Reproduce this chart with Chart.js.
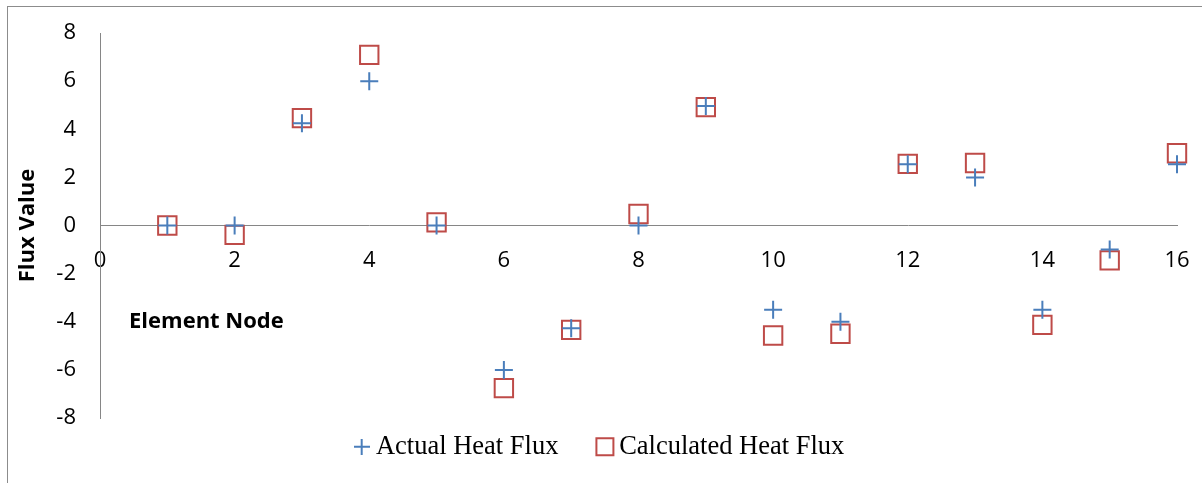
<!DOCTYPE html>
<html>
<head>
<meta charset="utf-8">
<title>Flux Value by Element Node</title>
<script src="https://cdn.jsdelivr.net/npm/chart.js@4.4.1/dist/chart.umd.min.js"></script>
<style>
  html, body { margin: 0; padding: 0; background: #fff; }
  #wrap { position: relative; width: 1202px; height: 483px; overflow: hidden; }
  #frame { position: absolute; left: 7px; top: 6px; right: -2px; bottom: -2px; border-left: 1px solid #8c8c8c; border-top: 1px solid #8c8c8c; }
  canvas { position: absolute; left: 0; top: 0; }
</style>
</head>
<body>
<div id="wrap">
  <div id="frame"></div>
  <canvas id="fluxChart" width="1202" height="483"></canvas>
</div>
<script>
// Data
const nodes = [1, 2, 3, 4, 5, 6, 7, 8, 9, 10, 11, 12, 13, 14, 15, 16];
const actualFlux = [0, 0, 4.25, 6, 0, -6, -4.27, 0, 4.97, -3.5, -4, 2.55, 2, -3.5, -1, 2.55];
const calculatedFlux = [0, -0.39, 4.46, 7.09, 0.13, -6.76, -4.34, 0.48, 4.92, -4.57, -4.5, 2.56, 2.6, -4.13, -1.45, 3];
const xTicks = [0, 2, 4, 6, 8, 10, 12, 14, 16];
const yTicks = [-8, -6, -4, -2, 0, 2, 4, 6, 8];

const blue = '#4A7EBB';
const red = '#BE4B48';
const axisGrey = '#868686';

// small cross for the legend, the built-in one is too tall at this font size
function crossIcon(size, color) {
    const c = document.createElement('canvas');
    c.width = size;
    c.height = size;
    const g = c.getContext('2d');
    g.strokeStyle = color;
    g.lineWidth = 2;
    g.beginPath();
    g.moveTo(0, size / 2); g.lineTo(size, size / 2);
    g.moveTo(size / 2, 0); g.lineTo(size / 2, size);
    g.stroke();
    return c;
}

// x axis caption sits inside the plot, under the axis, like in the original
const axisCaption = {
    id: 'axisCaption',
    afterDraw(chart) {
        const {ctx, scales: {x, y}} = chart;
        ctx.save();
        ctx.font = 'bold 22px "Open Sans"';
        ctx.fillStyle = '#000';
        ctx.textBaseline = 'alphabetic';
        ctx.textAlign = 'left';
        ctx.fillText('Element Node', x.left + 29, y.getPixelForValue(0) + 102);
        ctx.restore();
    }
};

// pull the legend up a bit, its padding is only there for the gap between items
// (only the top moves, the legend clips to its own box)
const legendLift = {
    id: 'legendLift',
    afterLayout(chart) {
        chart.legend.top -= 30;
        chart.legend.height += 30;
    }
};

const ctx = document.getElementById('fluxChart').getContext('2d');
new Chart(ctx, {
    type: 'scatter',
    data: {
        datasets: [{
            label: 'Actual Heat Flux',
            data: nodes.map((n, i) => ({x: n, y: actualFlux[i]})),
            pointStyle: 'cross',
            pointRadius: 9,
            pointHoverRadius: 9,
            borderWidth: 2,
            borderColor: blue,
            backgroundColor: blue,
            clip: false
        }, {
            label: 'Calculated Heat Flux',
            data: nodes.map((n, i) => ({x: n, y: calculatedFlux[i]})),
            pointStyle: 'rect',
            pointRadius: 13,
            pointHoverRadius: 13,
            borderWidth: 2,
            borderColor: red,
            backgroundColor: 'rgba(0,0,0,0)',
            clip: false
        }]
    },
    options: {
        responsive: false,
        animation: false,
        devicePixelRatio: 1,
        layout: {
            padding: {left: 28, right: 25, top: 33, bottom: 0}
        },
        scales: {
            x: {
                type: 'linear',
                position: {y: 0},
                min: xTicks[0],
                max: xTicks[xTicks.length - 1],
                grid: {display: false, drawTicks: false},
                border: {display: true, color: axisGrey, width: 1},
                ticks: {
                    stepSize: xTicks[1] - xTicks[0],
                    padding: 22,
                    color: '#000',
                    font: {family: '"Open Sans"', size: 22}
                },
                afterFit(scale) {
                    scale.paddingLeft = 0;
                    scale.paddingRight = 0;
                }
            },
            y: {
                type: 'linear',
                position: 'left',
                min: yTicks[0],
                max: yTicks[yTicks.length - 1],
                grid: {display: false, drawTicks: false},
                border: {display: true, color: axisGrey, width: 1},
                ticks: {
                    stepSize: yTicks[1] - yTicks[0],
                    padding: 24,
                    color: '#000',
                    font: {family: '"Open Sans"', size: 22}
                },
                title: {
                    display: true,
                    text: 'Flux Value',
                    color: '#000',
                    font: {family: '"Open Sans"', size: 22, weight: 'bold'},
                    padding: {top: -13, bottom: 0}
                },
                afterFit(scale) {
                    scale.width = 72;
                    scale.paddingTop = 0;
                    scale.paddingBottom = 0;
                }
            }
        },
        plugins: {
            legend: {
                position: 'bottom',
                maxHeight: 65,
                labels: {
                    usePointStyle: true,
                    boxWidth: 2,
                    boxHeight: 17,
                    padding: 45.5,
                    color: '#000',
                    font: {family: '"Liberation Serif"', size: 26.5},
                    generateLabels(chart) {
                        const items = Chart.defaults.plugins.legend.labels.generateLabels(chart);
                        items[0].pointStyle = crossIcon(16, blue);
                        return items;
                    }
                }
            },
            tooltip: {enabled: false}
        }
    },
    plugins: [axisCaption, legendLift]
});
</script>
</body>
</html>
